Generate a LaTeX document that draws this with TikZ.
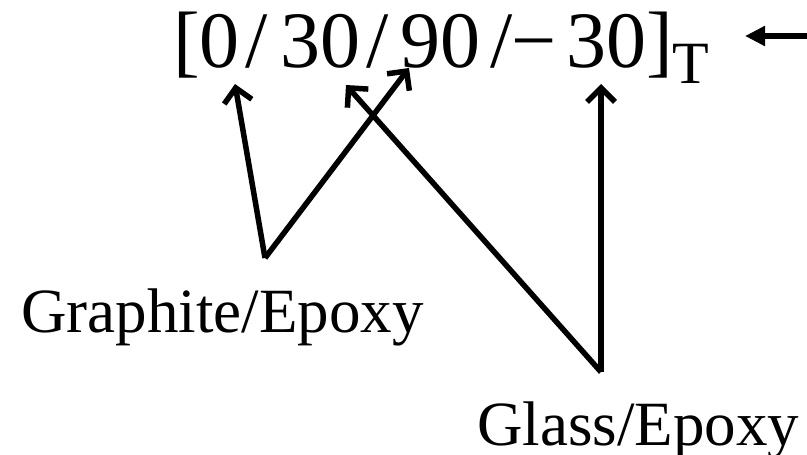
\documentclass[tikz,border=0pt]{standalone}
\usepackage{fontspec}
\setmainfont{Liberation Serif}
\usetikzlibrary{arrows.meta}
\begin{document}
\begin{tikzpicture}[x=1pt,y=-1pt,
  piece/.style={anchor=base west,inner sep=0pt,font=\fontsize{80}{90}\selectfont},
  sub/.style={anchor=base west,inner sep=0pt,font=\fontsize{60}{70}\selectfont},
  lbl/.style={anchor=base west,inner sep=0pt,font=\fontsize{63}{72}\selectfont},
  barb/.style={line width=5.5pt,-{Straight Barb[length=14pt,width=28pt,line width=5.5pt]}},
  fill arrow/.style={line width=5.5pt,-{Triangle[length=20pt,width=19pt]}}]
\useasboundingbox (0,0) rectangle (807,455);
% formula pieces
\node[piece] (p1) at (173,67) {[0};
\node[piece] (s1) at (245,67) {/};
\node[piece] (p2) at (280,67) {30};
\node[piece] (s2) at (366,67) {/};
\node[piece] (p3) at (400,67) {90};
\node[piece] (s3) at (490,67) {/};
\node[piece] (p4) at (511,67) {−};
\node[piece] (p5) at (566,67) {30]};
\node[sub] (t) at (672,83) {T};
% labels
\node[lbl] (gr) at (21,332) {Graphite/Epoxy};
\node[lbl] (gl) at (477,445) {Glass/Epoxy};
% connector points
\coordinate (gv) at (265,258);
\coordinate (lv) at (601,372);
\coordinate (t0) at (235,84);
\coordinate (t90) at (409,68);
\coordinate (t30) at (346,85);
\coordinate (tm30) at (601,84);
\coordinate (rs) at (809,36);
\coordinate (re) at (745,36);
% arrows
\draw[barb] (gv) -- (t0);
\draw[barb] (gv) -- (t90);
\draw[barb] (lv) -- (t30);
\draw[barb] (lv) -- (tm30);
\draw[fill arrow] (rs) -- (re);
\end{tikzpicture}
\end{document}
